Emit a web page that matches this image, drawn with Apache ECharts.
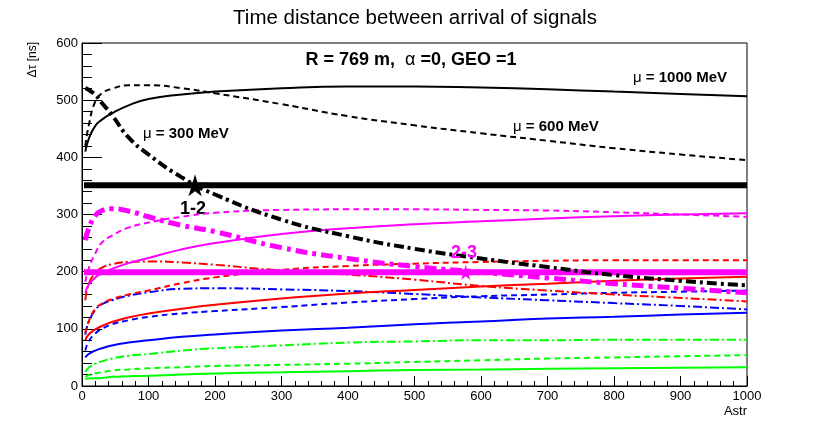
<!DOCTYPE html>
<html>
<head>
<meta charset="utf-8">
<title>Time distance between arrival of signals</title>
<script src="https://cdn.jsdelivr.net/npm/echarts@6/dist/echarts.min.js"></script>
<style>
html, body { margin: 0; padding: 0; background: #fff; }
#chart { width: 830px; height: 429px; }
</style>
</head>
<body>
<div id="chart"></div>
<script>
var astr = [5, 10, 20, 30, 45, 70, 100, 150, 200, 300, 400, 500, 600, 700, 800, 900, 1000];

// black: mu = 1000 / 600 / 300 MeV
var black1000 = [410, 432, 455, 466, 477, 491, 502, 510, 515, 521, 524, 524, 522, 519, 515, 511, 507];
var black600  = [420, 455, 498, 512, 520, 526, 526, 521, 512, 493, 472, 456, 442, 429, 416, 405, 395];
var black300  = [521, 518, 509, 495, 474, 435, 405, 365, 335, 291, 262, 240, 223, 208, 194, 184, 176];

// magenta
var magThick  = [255, 275, 298, 307, 310, 306, 296, 281, 270, 242, 223, 209, 199, 189, 179, 171, 163];
var magDash   = [182, 205, 232, 251, 263, 277, 286, 296, 303, 308, 309, 309, 308, 307, 304, 300, 296];
var magSolid  = [163, 177, 190, 197, 205, 215, 224, 239, 250, 266, 276, 283, 288, 293, 297, 300, 302];

// red
var redDashDot = [150, 178, 198, 207, 213, 217, 218, 216, 212, 202, 195, 186, 175, 167, 160, 154, 148];
var redDash    = [92, 113, 135, 144, 152, 160, 167, 180, 190, 203, 210, 214, 217, 219, 220, 220, 220];
var redSolid   = [80, 90, 99, 105, 112, 120, 127, 135, 142, 153, 162, 168, 174, 179, 184, 188, 191];

// blue
var blueDashDot = [90, 112, 133, 143, 150, 158, 164, 170, 171, 169, 166, 161, 155, 150, 145, 140, 134];
var blueDash    = [62, 78, 92, 100, 108, 115, 121, 127, 131, 138, 146, 152, 157, 160, 163, 165, 167];
var blueSolid   = [50, 56, 62, 66, 71, 76, 80, 86, 90, 97, 102, 108, 113, 118, 121, 125, 128];

// green
var greenDashDot = [25, 32, 39, 43, 48, 53, 56, 62, 66, 71, 76, 78, 80, 80, 81, 81, 81];
var greenDash    = [16, 19, 22, 24, 27, 29, 31, 33, 35, 37, 39, 42, 45, 48, 50, 52, 54];
var greenSolid   = [12, 13, 13.5, 14, 16, 17, 18, 20, 22, 24, 26, 28, 29, 30, 31, 32, 33];

// the two flat levels and the crossing stars
var levelX = [3, 1000];
var level12 = [351, 351];
var level23 = [199, 199];
var star12 = [170, 351];
var star23 = [577, 199];

var FONT = '"Liberation Sans", Arial, Helvetica, sans-serif';
var STAR = 'path://M50,0 L61,35 L98,35 L68,57 L79,91 L50,70 L21,91 L32,57 L2,35 L39,35 Z';

function pts(xs, ys) {
    return xs.map(function (x, i) { return [x, ys[i]]; });
}

function curve(ys, color, width, dash, z) {
    return {
        type: 'line',
        data: pts(astr, ys),
        showSymbol: false,
        symbol: 'none',
        smooth: 0.5,
        silent: true,
        z: z || 2,
        lineStyle: { color: color, width: width, type: dash || 'solid', cap: 'butt' }
    };
}

function level(ys, color, width) {
    return {
        type: 'line',
        data: pts(levelX, ys),
        showSymbol: false,
        symbol: 'none',
        silent: true,
        z: 4,
        lineStyle: { color: color, width: width }
    };
}

function muLabel(x, y, txt) {
    return {
        type: 'text', x: x, y: y,
        style: {
            text: '{m|μ} = ' + txt, fontFamily: FONT, fontSize: 15, fontWeight: 'bold',
            fill: '#000', verticalAlign: 'middle',
            rich: { m: { fontFamily: FONT, fontSize: 15, fontWeight: 'normal', fill: '#000' } }
        }
    };
}

var DASH = [6, 4];
var DDOT = [9, 3, 2, 3];

var myChart = echarts.init(document.getElementById('chart'));

var option = {
    animation: false,
    backgroundColor: '#fff',
    title: {
        text: 'Time distance between arrival of signals',
        left: 'center',
        top: 3,
        textStyle: { fontFamily: FONT, fontSize: 20.5, fontWeight: 'normal', color: '#000' }
    },
    grid: {
        left: 82, right: 83, top: 43, bottom: 43,
        show: true, borderColor: '#000', borderWidth: 1, backgroundColor: 'transparent'
    },
    xAxis: {
        type: 'value', min: 0, max: 1000, interval: 100,
        axisLine: { lineStyle: { color: '#000', width: 1 } },
        axisTick: { inside: true, length: 10, lineStyle: { color: '#000' } },
        minorTick: { show: true, splitNumber: 5, length: 5, lineStyle: { color: '#000' } },
        splitLine: { show: false },
        axisLabel: { fontFamily: FONT, fontSize: 13, color: '#000', margin: 4,
            formatter: function (v) { return String(v); } }
    },
    yAxis: {
        type: 'value', min: 0, max: 600, interval: 100,
        axisLine: { lineStyle: { color: '#000', width: 1 } },
        axisTick: { inside: true, length: 20, lineStyle: { color: '#000' } },
        minorTick: { show: true, splitNumber: 5, length: 10, lineStyle: { color: '#000' } },
        splitLine: { show: false },
        axisLabel: { fontFamily: FONT, fontSize: 13, color: '#000', margin: 4 }
    },
    series: [
        curve(greenSolid, '#00ff00', 2),
        curve(greenDash, '#00ff00', 2, DASH),
        curve(greenDashDot, '#00ff00', 2, DDOT),
        curve(blueSolid, '#0000ff', 2),
        curve(blueDash, '#0000ff', 2, DASH),
        curve(blueDashDot, '#0000ff', 2, DDOT),
        curve(redSolid, '#ff0000', 2),
        curve(redDash, '#ff0000', 2, DASH),
        curve(redDashDot, '#ff0000', 2, DDOT),
        curve(magSolid, '#ff00ff', 2),
        curve(magDash, '#ff00ff', 2, DASH),
        curve(black1000, '#000000', 2),
        curve(black600, '#000000', 2, DASH),
        level(level12, '#000000', 6),
        level(level23, '#ff00ff', 6),
        curve(magThick, '#ff00ff', 5, [12, 5, 4, 5], 5),
        curve(black300, '#000000', 4, [10, 4, 3, 4], 5),
        {
            type: 'scatter', silent: true, z: 6,
            data: [star12], symbol: STAR, symbolSize: 22,
            itemStyle: { color: '#000000', opacity: 1 }
        },
        {
            type: 'scatter', silent: true, z: 6,
            data: [star23], symbol: STAR, symbolSize: 15,
            itemStyle: { color: '#ff00ff', opacity: 1 }
        }
    ],
    graphic: [
        { type: 'text', x: 411, y: 60, style: { text: 'R = 769 m,  {a|α} =0, GEO =1', fontFamily: FONT, fontSize: 18, fontWeight: 'bold', fill: '#000', align: 'center', verticalAlign: 'middle', rich: { a: { fontFamily: FONT, fontSize: 18, fontWeight: 'normal', fill: '#000' } } } },
        muLabel(633, 78, '1000 MeV'),
        muLabel(513, 127, '600 MeV'),
        muLabel(143, 134, '300 MeV'),
        { type: 'text', x: 180, y: 209, style: { text: '1-2', fontFamily: FONT, fontSize: 18, fontWeight: 'bold', fill: '#000', verticalAlign: 'middle' } },
        { type: 'text', x: 451, y: 253, z: 10, style: { text: '2-3', fontFamily: FONT, fontSize: 18, fontWeight: 'bold', fill: '#ff00ff', verticalAlign: 'middle' } },
        { type: 'text', x: 747, y: 411, style: { text: 'Astr', fontFamily: FONT, fontSize: 13, fill: '#000', align: 'right', verticalAlign: 'middle' } },
        { type: 'text', x: 33, y: 42, rotation: Math.PI / 2, style: { text: 'Δτ [ns]', fontFamily: FONT, fontSize: 12, fill: '#000', align: 'right', verticalAlign: 'middle' } }
    ]
};

myChart.setOption(option);
</script>
</body>
</html>
